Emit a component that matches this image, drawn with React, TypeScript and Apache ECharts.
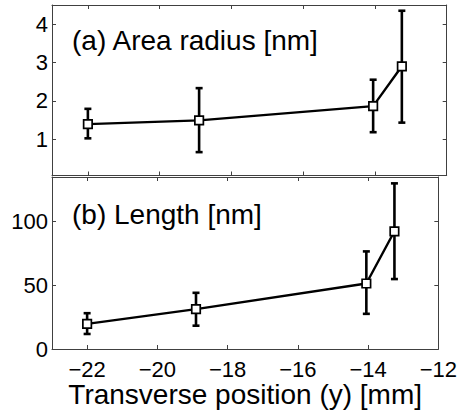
import React, { useEffect, useRef } from "react";
import * as echarts from "echarts";

const xPositions = [-22, -18.9, -14.05, -13.25];
const radiusValues = [1.39, 1.49, 1.86, 2.9];
const radiusLow = [1.02, 0.66, 1.18, 1.43];
const radiusHigh = [1.79, 2.33, 2.55, 4.35];
const lengthValues = [19.7, 31.3, 51.4, 92.4];
const lengthLow = [11.8, 18.3, 27.6, 54.9];
const lengthHigh = [28.1, 44.1, 76.6, 130];
const xTicks = [-22, -20, -18, -16, -14, -12];
const radiusTicks = [1, 2, 3, 4];
const lengthTicks = [0, 50, 100];
const panelLabels = ["(a) Area radius [nm]", "(b) Length [nm]"];
const xTitle = "Transverse position (y) [mm]";

const FONT = "Liberation Sans, Arial, Helvetica, sans-serif";
const AXIS_COLOR = "#404040";

function fmt(v: number) {
  return String(v).replace("-", "\u2212");
}

export default function App() {
  const ref = useRef<HTMLDivElement>(null);
  useEffect(() => {
    if (!ref.current) return;
    const chart = echarts.init(ref.current, null, { renderer: "svg" });

    const grids = [
      { left: 52, top: 5, width: 394.7, height: 170.5 },
      { left: 52, top: 177, width: 394.7, height: 172 },
    ];

    const mkX = (gridIndex: number, position: string, showLabels: boolean) => ({
      type: "value",
      gridIndex,
      position,
      min: -23,
      max: -12,
      splitLine: { show: false },
      axisLine: { show: true, onZero: false, lineStyle: { color: AXIS_COLOR, width: 1 } },
      axisTick: { show: true, inside: true, length: 4, customValues: xTicks, lineStyle: { color: AXIS_COLOR } },
      axisLabel: {
        show: showLabels,
        customValues: xTicks,
        formatter: (v: number) => fmt(v),
        color: "#000",
        fontSize: 22,
        fontFamily: FONT,
        margin: 9,
      },
      ...(showLabels
        ? {
            name: xTitle,
            nameLocation: "middle",
            nameGap: 29,
            nameTextStyle: { color: "#000", fontSize: 28, fontFamily: FONT },
          }
        : {}),
    });

    const mkY = (gridIndex: number, position: string, showLabels: boolean, min: number, max: number, ticks: number[]) => ({
      type: "value",
      gridIndex,
      position,
      min,
      max,
      splitLine: { show: false },
      axisLine: { show: true, onZero: false, lineStyle: { color: AXIS_COLOR, width: 1 } },
      axisTick: { show: true, inside: true, length: 4, customValues: ticks, lineStyle: { color: AXIS_COLOR } },
      axisLabel: {
        show: showLabels,
        customValues: ticks,
        formatter: (v: number) => fmt(v),
        color: "#000",
        fontSize: 22,
        fontFamily: FONT,
        margin: 4,
      },
    });

    const errRender = (params: any, api: any) => {
      const x = api.value(0);
      const lo = api.value(1);
      const hi = api.value(2);
      const pLo = api.coord([x, lo]);
      const pHi = api.coord([x, hi]);
      const cap = 3.5;
      const st = { stroke: "#000", lineWidth: 2.6 };
      return {
        type: "group",
        children: [
          { type: "line", shape: { x1: pLo[0], y1: pLo[1], x2: pHi[0], y2: pHi[1] }, style: st },
          { type: "line", shape: { x1: pLo[0] - cap, y1: pLo[1], x2: pLo[0] + cap, y2: pLo[1] }, style: st },
          { type: "line", shape: { x1: pHi[0] - cap, y1: pHi[1], x2: pHi[0] + cap, y2: pHi[1] }, style: st },
        ],
      };
    };

    const lineSeries = (idx: number, vals: number[]) => ({
      type: "line",
      xAxisIndex: idx * 2,
      yAxisIndex: idx * 2,
      data: xPositions.map((x, i) => [x, vals[i]]),
      symbol: "rect",
      symbolSize: 8.5,
      itemStyle: { color: "#fff", borderColor: "#000", borderWidth: 1.7 },
      lineStyle: { color: "#000", width: 2.4 },
      z: 3,
    });

    const errSeries = (idx: number, lo: number[], hi: number[]) => ({
      type: "custom",
      xAxisIndex: idx * 2,
      yAxisIndex: idx * 2,
      renderItem: errRender,
      encode: { x: 0, y: [1, 2] },
      data: xPositions.map((x, i) => [x, lo[i], hi[i]]),
      z: 2,
    });

    chart.setOption({
      animation: false,
      backgroundColor: "#fff",
      grid: grids,
      xAxis: [mkX(0, "bottom", false), mkX(0, "top", false), mkX(1, "bottom", true), mkX(1, "top", false)],
      yAxis: [
        mkY(0, "left", true, 0.05, 4.5, radiusTicks),
        mkY(0, "right", false, 0.05, 4.5, radiusTicks),
        mkY(1, "left", true, 0, 135, lengthTicks),
        mkY(1, "right", false, 0, 135, lengthTicks),
      ],
      series: [
        errSeries(0, radiusLow, radiusHigh),
        lineSeries(0, radiusValues),
        errSeries(1, lengthLow, lengthHigh),
        lineSeries(1, lengthValues),
      ],
      graphic: [
        {
          type: "text",
          left: 72,
          top: 26,
          style: { text: panelLabels[0], fill: "#000", fontSize: 28, fontFamily: FONT },
        },
        {
          type: "text",
          left: 72,
          top: 200,
          style: { text: panelLabels[1], fill: "#000", fontSize: 28, fontFamily: FONT },
        },
      ],
    });
    return () => chart.dispose();
  }, []);
  return (
    <div
      ref={ref}
      style={{ position: "fixed", left: 0, top: 0, width: 460, height: 414, background: "#fff" }}
    />
  );
}
